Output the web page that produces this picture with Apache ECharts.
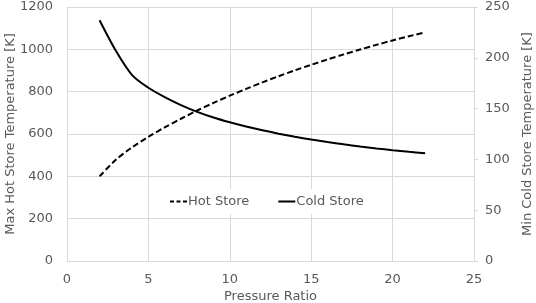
<!DOCTYPE html>
<html>
<head>
<meta charset="utf-8">
<script src="https://cdn.jsdelivr.net/npm/echarts@6/dist/echarts.min.js"></script>
<style>
  html, body { margin: 0; padding: 0; background: #fff; }
  #chart { width: 536px; height: 303px; }
</style>
</head>
<body>
<div id="chart"></div>
<script>
// pressure ratio steps
var pressureRatio = [2, 3, 4, 5, 6, 7, 8, 9, 10, 11, 12, 13, 14, 15, 16, 17, 18, 19, 20, 21, 22];
// max hot store temperature [K] (left axis)
var hotStore = [400, 478, 537, 587, 631, 672, 711, 747, 781, 813, 844, 873, 901, 927, 952, 976, 999, 1021, 1042, 1062, 1080];
// min cold store temperature [K] (right axis)
var coldStore = [237, 207, 183, 170.5, 161.3, 153.5, 146.8, 141.2, 136.5, 132.3, 128.6, 125.3, 122.3, 119.6, 117.1, 114.8, 112.7, 110.8, 109.1, 107.5, 106];

function pairs(xs, ys) {
  return xs.map(function (x, i) { return [x, ys[i]]; });
}

var font = '"DejaVu Sans", Verdana, sans-serif';
var grey = '#595959';
var gridGrey = '#d9d9d9';
var plain = function (v) { return String(v); };

// legend icons drawn as short line samples
var dashIcon = 'path://M0,0h4v2h-4z M6.5,0h4v2h-4z M13,0h4v2h-4z';
var solidIcon = 'path://M0,0h17v2h-17z';

var chart = echarts.init(document.getElementById('chart'));
var option = {
  animation: false,
  textStyle: { fontFamily: font },
  grid: { left: 67, right: 62, top: 7, bottom: 42, outerBoundsMode: 'none', containLabel: false },
  legend: {
    left: 165,
    top: 189,
    padding: [6, 5],
    itemGap: 29,
    itemWidth: 17,
    itemHeight: 2,
    backgroundColor: '#fff',
    textStyle: { fontFamily: font, fontSize: 13, color: grey, padding: [0, 0, 0, -4] },
    data: [
      { name: 'Hot Store', icon: dashIcon },
      { name: 'Cold Store', icon: solidIcon }
    ]
  },
  xAxis: {
    type: 'value',
    min: 0, max: 25, interval: 5,
    name: 'Pressure Ratio',
    nameLocation: 'middle',
    nameGap: 29,
    nameMoveOverlap: false,
    nameTextStyle: { fontFamily: font, fontSize: 13, color: grey },
    axisLine: { show: true, lineStyle: { color: gridGrey } },
    axisTick: { show: false },
    axisLabel: { fontFamily: font, fontSize: 13, color: grey, margin: 12, formatter: plain },
    splitLine: { show: true, lineStyle: { color: gridGrey } }
  },
  yAxis: [
    {
      type: 'value',
      min: 0, max: 1200, interval: 200,
      name: 'Max Hot Store Temperature [K]',
      nameLocation: 'middle',
      nameGap: 50,
      nameMoveOverlap: false,
      nameTextStyle: { fontFamily: font, fontSize: 13, color: grey },
      axisLine: { show: false },
      axisTick: { show: false },
      axisLabel: { fontFamily: font, fontSize: 13, color: grey, margin: 14, formatter: plain },
      splitLine: { show: true, lineStyle: { color: gridGrey } }
    },
    {
      type: 'value',
      position: 'right',
      min: 0, max: 250, interval: 50,
      name: 'Min Cold Store Temperature [K]',
      nameLocation: 'middle',
      nameGap: 47,
      nameMoveOverlap: false,
      nameTextStyle: { fontFamily: font, fontSize: 13, color: grey },
      axisLine: { show: true, lineStyle: { color: gridGrey } },
      axisTick: { show: true, length: 4, lineStyle: { color: gridGrey } },
      axisLabel: { fontFamily: font, fontSize: 13, color: grey, margin: 11, formatter: plain },
      splitLine: { show: false }
    }
  ],
  series: [
    {
      name: 'Hot Store',
      type: 'line',
      yAxisIndex: 0,
      smooth: 0.3,
      symbol: 'none',
      data: pairs(pressureRatio, hotStore),
      itemStyle: { color: '#000' },
      lineStyle: { color: '#000', width: 2, type: [6, 3] }
    },
    {
      name: 'Cold Store',
      type: 'line',
      yAxisIndex: 1,
      smooth: 0.3,
      symbol: 'none',
      data: pairs(pressureRatio, coldStore),
      itemStyle: { color: '#000' },
      lineStyle: { color: '#000', width: 2 }
    }
  ]
};
chart.setOption(option);
window.addEventListener('resize', function () { chart.resize(); });
</script>
</body>
</html>
